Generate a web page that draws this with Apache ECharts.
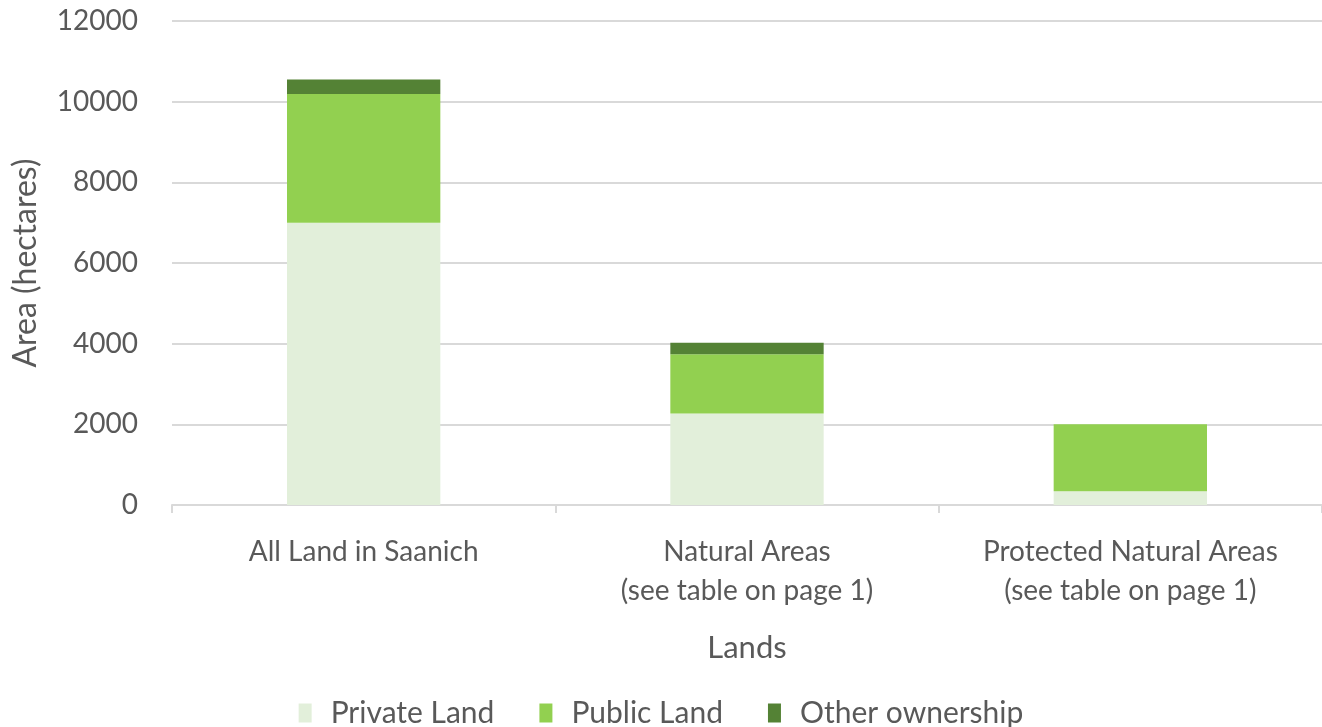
<!DOCTYPE html>
<html>
<head>
<meta charset="utf-8">
<script src="https://cdn.jsdelivr.net/npm/echarts@6/dist/echarts.min.js"></script>
<style>
html, body { margin: 0; padding: 0; background: #fff; }
#main { width: 1322px; height: 727px; }
</style>
</head>
<body>
<div id="main"></div>
<script>
var lands = ['All Land in Saanich', 'Natural Areas\n(see table on page 1)', 'Protected Natural Areas\n(see table on page 1)'];
var privateLand = [7000, 2270, 340];
var publicLand = [3190, 1470, 1660];
var otherOwnership = [360, 280, 0];

var myChart = echarts.init(document.getElementById('main'));
var font = 'Lato, "Open Sans", sans-serif';
var grey = '#595959';

var option = {
	animation: false,
	textStyle: { fontFamily: font },
	grid: { left: 172, right: 0, top: 21, bottom: 222, outerBoundsMode: 'none', containLabel: false },
	legend: {
		bottom: -6,
		left: 'center',
		itemWidth: 13,
		itemHeight: 19,
		itemGap: 45,
		icon: 'rect',
		textStyle: { fontSize: 30, color: grey, fontFamily: font, padding: [0, 0, 0, 14] },
		data: ['Private Land', 'Public Land', 'Other ownership']
	},
	xAxis: {
		type: 'category',
		data: lands,
		name: 'Lands',
		nameLocation: 'middle',
		nameGap: 127,
		nameTextStyle: { fontSize: 31, color: grey },
		axisLine: { lineStyle: { color: '#d9d9d9', width: 2 } },
		axisTick: { show: true, length: 8, lineStyle: { color: '#d9d9d9', width: 2 } },
		axisLabel: { interval: 0, fontSize: 28, color: grey, margin: 27, lineHeight: 39 }
	},
	yAxis: {
		type: 'value',
		min: 0,
		max: 12000,
		interval: 2000,
		name: 'Area (hectares)',
		nameLocation: 'middle',
		nameGap: 130,
		nameTextStyle: { fontSize: 32, color: grey },
		axisLine: { show: false },
		axisTick: { show: false },
		axisLabel: { fontSize: 28, color: grey, margin: 34, formatter: function (v) { return String(v); } },
		splitLine: { lineStyle: { color: '#d9d9d9', width: 2 } }
	},
	series: [
		{ name: 'Private Land', type: 'bar', stack: 'a', barWidth: '40%', data: privateLand, itemStyle: { color: '#E2EFDA' } },
		{ name: 'Public Land', type: 'bar', stack: 'a', data: publicLand, itemStyle: { color: '#92D050' } },
		{ name: 'Other ownership', type: 'bar', stack: 'a', data: otherOwnership, itemStyle: { color: '#548235' } }
	]
};

myChart.setOption(option);
</script>
</body>
</html>
